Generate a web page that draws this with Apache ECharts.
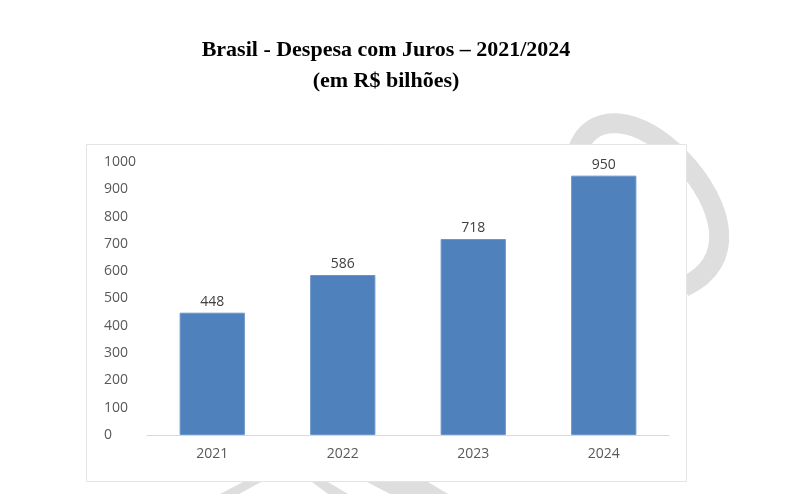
<!DOCTYPE html>
<html>
<head>
<meta charset="utf-8">
<script src="https://cdn.jsdelivr.net/npm/echarts@6/dist/echarts.min.js"></script>
<style>
	html,body{margin:0;padding:0;background:#fff;}
	#main{width:807px;height:494px;}
</style>
</head>
<body>
<div id="main"></div>
<script>
// dados: despesa com juros (R$ bilhões)
var anos = ['2021', '2022', '2023', '2024'];
var despesa = [448, 586, 718, 950];
var eixoY = {min: 0, max: 1000, step: 100};

var chart = echarts.init(document.getElementById('main'));

var labelFont = 'Open Sans';
var wm = '#dedede'; // marca d'agua ao fundo

var option = {
	backgroundColor: '#fff',
	animation: false,
	title: {
		text: 'Brasil - Despesa com Juros – 2021/2024\n(em R$ bilhões)',
		left: 381,
		top: 30,
		textAlign: 'center',
		textStyle: {
			fontFamily: 'Liberation Serif',
			fontWeight: 'bold',
			fontSize: 22,
			lineHeight: 31,
			color: '#000'
		}
	},
	graphic: [
		// marca d'agua (atras da caixa do grafico)
		{
			type: 'bezierCurve', z: -2, silent: true,
			shape: {x1: 577, y1: 152, cpx1: 590, cpy1: 110, cpx2: 640, cpy2: 115, x2: 682, y2: 160},
			style: {fill: null, stroke: wm, lineWidth: 20}
		},
		{
			type: 'bezierCurve', z: -2, silent: true,
			shape: {x1: 682, y1: 160, cpx1: 724, cpy1: 205, cpx2: 738, cpy2: 262, x2: 684, y2: 287},
			style: {fill: null, stroke: wm, lineWidth: 20}
		},
		{type: 'polygon', z: -2, silent: true, shape: {points: [[243, 482], [261, 482], [239, 494], [220, 494]]}, style: {fill: wm}},
		{type: 'polygon', z: -2, silent: true, shape: {points: [[312, 482], [328, 482], [348, 494], [328, 494]]}, style: {fill: wm}},
		{type: 'polygon', z: -2, silent: true, shape: {points: [[367, 482], [428, 482], [448, 494], [390, 494]]}, style: {fill: wm}},
		// caixa do grafico
		{
			type: 'rect', z: -1, silent: true,
			shape: {x: 86.5, y: 144.5, width: 600, height: 337},
			style: {fill: '#fff', stroke: '#e4e4e4', lineWidth: 1}
		}
	],
	grid: {left: 147, right: 138, top: 162, bottom: 59},
	xAxis: {
		type: 'category',
		data: anos,
		axisTick: {show: false},
		axisLine: {lineStyle: {color: '#d9d9d9', width: 1}},
		axisLabel: {color: '#595959', fontFamily: labelFont, fontSize: 14, margin: 12}
	},
	yAxis: {
		type: 'value',
		min: eixoY.min,
		max: eixoY.max,
		interval: eixoY.step,
		splitLine: {show: false},
		axisLine: {show: false},
		axisTick: {show: false},
		axisLabel: {
			color: '#595959', fontFamily: labelFont, fontSize: 14, align: 'left', margin: 43,
			formatter: function (v) { return String(v); }
		}
	},
	series: [{
		name: 'Despesa com Juros',
		type: 'bar',
		data: despesa,
		barWidth: '50%',
		itemStyle: {color: '#4f81bd', borderColor: '#6a95c8', borderWidth: 1},
		label: {
			show: true,
			position: 'top',
			distance: 4,
			color: '#404040',
			fontFamily: labelFont,
			fontSize: 14
		}
	}]
};

chart.setOption(option, true);
</script>
</body>
</html>
